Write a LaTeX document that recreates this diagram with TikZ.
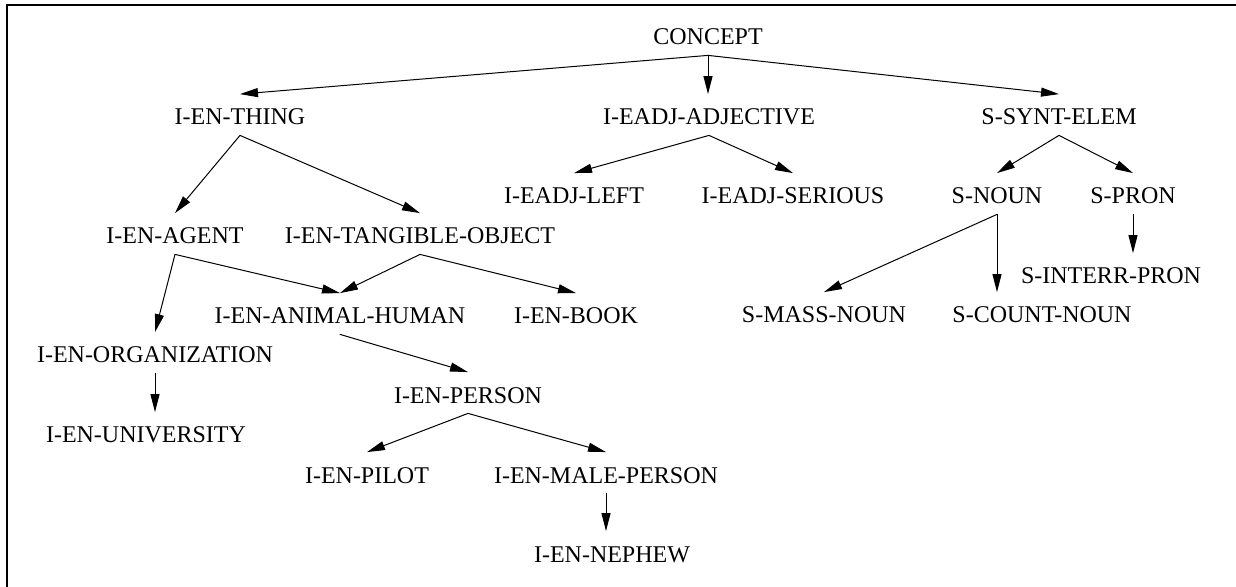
\documentclass[tikz,border=0pt]{standalone}
\usepackage{fontspec}
\setmainfont{Liberation Serif}
\usetikzlibrary{arrows.meta}

\begin{document}
\begin{tikzpicture}
			[x=.5pt,y=-.5pt,line cap=round,
			%Styles
			concept/.style={anchor=base,inner xsep=2pt,inner ysep=0pt,
				text height=15.25pt,text depth=5pt,font=\fontsize{12}{14}\selectfont},
			isa/.style={line width=.5pt,-{Triangle[length=9pt,width=4.5pt]}},
			frame line/.style={line width=.6pt}
			]
			
			\useasboundingbox (0,0) rectangle (1236,587);
			\draw[frame line] (7,587) -- (7,5) -- (1236,5);
			
			%The graphic
			\node[concept] (concept) at (708,45) {CONCEPT};
			
			\node[concept] (thing) at (240,125) {I-EN-THING};
			\node[concept] (adj) at (709,125) {I-EADJ-ADJECTIVE};
			\node[concept] (synt) at (1059,125) {S-SYNT-ELEM};
			
			\node[concept] (left) at (574,204) {I-EADJ-LEFT};
			\node[concept] (serious) at (793,204) {I-EADJ-SERIOUS};
			\node[concept] (noun) at (997,204) {S-NOUN};
			\node[concept] (pron) at (1133,204) {S-PRON};
			
			\node[concept] (agent) at (175,244) {I-EN-AGENT};
			\node[concept] (tangible) at (420,244) {I-EN-TANGIBLE-OBJECT};
			\node[concept] (interr) at (1111,284) {S-INTERR-PRON};
			
			\node[concept] (animal) at (340,324) {I-EN-ANIMAL-HUMAN};
			\node[concept] (book) at (576,324) {I-EN-BOOK};
			\node[concept] (mass) at (824,323) {S-MASS-NOUN};
			\node[concept] (count) at (1042,323) {S-COUNT-NOUN};
			
			\node[concept] (org) at (155,363) {I-EN-ORGANIZATION};
			\node[concept] (person) at (468,403) {I-EN-PERSON};
			\node[concept] (univ) at (146,443) {I-EN-UNIVERSITY};
			\node[concept] (pilot) at (367,483) {I-EN-PILOT};
			\node[concept] (male) at (606,483) {I-EN-MALE-PERSON};
			\node[concept] (nephew) at (612,562) {I-EN-NEPHEW};
			
			\path[isa]
				(concept.south) edge (thing.north)
					edge (concept.south |- adj.north)
					edge (synt.north)
				(thing.south) edge (agent.north)
					edge (tangible.north)
				(adj.south) edge (left.north)
					edge (serious.north)
				(synt.south) edge (noun.north)
					edge (pron.north)
				(agent.south) edge (org.north)
					edge (animal.north)
				(tangible.south) edge (animal.north)
					edge (book.north)
				(noun.south) edge (mass.north)
					edge (noun.south |- count.north)
				(pron.south) edge (pron.south |- interr.north)
				(org.south) edge (org.south |- univ.north)
				(animal.south) edge (person.north)
				(person.south) edge (pilot.north)
					edge (male.north)
				(male.south) edge (male.south |- nephew.north);
		\end{tikzpicture}
\end{document}
